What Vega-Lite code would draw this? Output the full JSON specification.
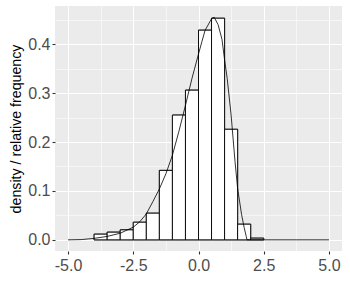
{
  "$schema": "https://vega.github.io/schema/vega-lite/v6.json",
  "width": 287,
  "height": 245,
  "autosize": {"type": "none"},
  "padding": {"left": 55, "top": 6, "right": 8, "bottom": 49},
  "background": "white",
  "config": {
    "view": {"fill": "#EBEBEB", "stroke": null},
    "font": "Liberation Sans"
  },
  "datasets": {
    "bins": [
      {"bin_start": -4.0, "bin_end": -3.5, "density": 0.0116},
      {"bin_start": -3.5, "bin_end": -3.0, "density": 0.0157},
      {"bin_start": -3.0, "bin_end": -2.5, "density": 0.0204},
      {"bin_start": -2.5, "bin_end": -2.0, "density": 0.036},
      {"bin_start": -2.0, "bin_end": -1.5, "density": 0.0545},
      {"bin_start": -1.5, "bin_end": -1.0, "density": 0.142},
      {"bin_start": -1.0, "bin_end": -0.5, "density": 0.255},
      {"bin_start": -0.5, "bin_end": 0.0, "density": 0.306},
      {"bin_start": 0.0, "bin_end": 0.5, "density": 0.4286},
      {"bin_start": 0.5, "bin_end": 1.0, "density": 0.453},
      {"bin_start": 1.0, "bin_end": 1.5, "density": 0.226},
      {"bin_start": 1.5, "bin_end": 2.0, "density": 0.032},
      {"bin_start": 2.0, "bin_end": 2.5, "density": 0.0034}
    ],
    "curve": [
      {"x": -5.0, "density": 0},
      {"x": -4.5, "density": 0.0005},
      {"x": -4.2, "density": 0.002},
      {"x": -4.0, "density": 0.003},
      {"x": -3.5, "density": 0.007},
      {"x": -3.0, "density": 0.0135},
      {"x": -2.5, "density": 0.026},
      {"x": -2.25, "density": 0.037},
      {"x": -2.0, "density": 0.053},
      {"x": -1.75, "density": 0.078},
      {"x": -1.5, "density": 0.104},
      {"x": -1.25, "density": 0.135},
      {"x": -1.0, "density": 0.173},
      {"x": -0.75, "density": 0.222},
      {"x": -0.5, "density": 0.275},
      {"x": -0.25, "density": 0.33},
      {"x": 0.0, "density": 0.38},
      {"x": 0.25, "density": 0.428},
      {"x": 0.5, "density": 0.452},
      {"x": 0.6, "density": 0.455},
      {"x": 0.75, "density": 0.44},
      {"x": 0.9, "density": 0.41},
      {"x": 1.0, "density": 0.368},
      {"x": 1.1, "density": 0.33},
      {"x": 1.25, "density": 0.255},
      {"x": 1.4, "density": 0.16},
      {"x": 1.5, "density": 0.105},
      {"x": 1.65, "density": 0.052},
      {"x": 1.75, "density": 0.025},
      {"x": 1.83, "density": 0.007},
      {"x": 1.86, "density": 0},
      {"x": 5.0, "density": 0}
    ]
  },
  "layer": [
    {
      "data": {"name": "bins"},
      "mark": {"type": "bar", "fill": "white", "stroke": "black", "strokeWidth": 0.9, "cornerRadius": 0},
      "encoding": {
        "x": {
          "field": "bin_start", "type": "quantitative",
          "scale": {"domain": [-5.5, 5.5], "nice": false, "zero": false},
          "axis": {
            "values": [-3.75, -1.25, 1.25, 3.75],
            "grid": true, "gridColor": "white", "gridWidth": 0.55,
            "labels": false, "ticks": false, "domain": false, "title": null, "orient": "bottom"
          }
        },
        "x2": {"field": "bin_end"},
        "y": {
          "field": "density", "type": "quantitative",
          "scale": {"domain": [-0.0228, 0.478], "nice": false, "zero": false},
          "axis": {
            "values": [0.05, 0.15, 0.25, 0.35, 0.45],
            "grid": true, "gridColor": "white", "gridWidth": 0.55,
            "labels": false, "ticks": false, "domain": false, "title": null, "orient": "left"
          }
        },
        "y2": {"datum": 0}
      }
    },
    {
      "data": {"name": "curve"},
      "mark": {"type": "line", "color": "black", "strokeWidth": 0.8, "opacity": 0},
      "encoding": {
        "x": {
          "field": "x", "type": "quantitative",
          "axis": {
            "values": [-5, -2.5, 0, 2.5, 5],
            "format": ".1f",
            "labelExpr": "replace(datum.label, '\u2212', '-')",
            "grid": true, "gridColor": "white", "gridWidth": 1.1,
            "domain": false, "ticks": true, "tickColor": "#333333", "tickSize": 3, "tickWidth": 1.1,
            "labelFontSize": 16, "labelColor": "#4D4D4D", "labelPadding": 3, "labelFont": "Liberation Sans",
            "title": null, "orient": "bottom", "zindex": 0
          }
        },
        "y": {
          "field": "density", "type": "quantitative",
          "axis": {
            "values": [0, 0.1, 0.2, 0.3, 0.4],
            "format": ".1f",
            "grid": true, "gridColor": "white", "gridWidth": 1.1,
            "domain": false, "ticks": true, "tickColor": "#333333", "tickSize": 3, "tickWidth": 1.1,
            "labelFontSize": 16, "labelColor": "#4D4D4D", "labelPadding": 2, "labelFont": "Liberation Sans",
            "title": "density / relative frequency", "titleFontSize": 14.2, "titleFontWeight": "normal",
            "titleColor": "black", "titleFont": "Liberation Sans", "titlePadding": 4,
            "orient": "left", "zindex": 0
          }
        }
      }
    },
    {
      "data": {"name": "bins"},
      "mark": {"type": "bar", "fill": "white", "stroke": "black", "strokeWidth": 0.9},
      "encoding": {
        "x": {"field": "bin_start", "type": "quantitative", "axis": null},
        "x2": {"field": "bin_end"},
        "y": {"field": "density", "type": "quantitative", "axis": null},
        "y2": {"datum": 0}
      }
    },
    {
      "data": {"name": "curve"},
      "mark": {"type": "line", "color": "black", "strokeWidth": 0.8},
      "encoding": {
        "x": {"field": "x", "type": "quantitative", "axis": null},
        "y": {"field": "density", "type": "quantitative", "axis": null}
      }
    }
  ],
  "resolve": {"axis": {"x": "independent", "y": "independent"}}
}
